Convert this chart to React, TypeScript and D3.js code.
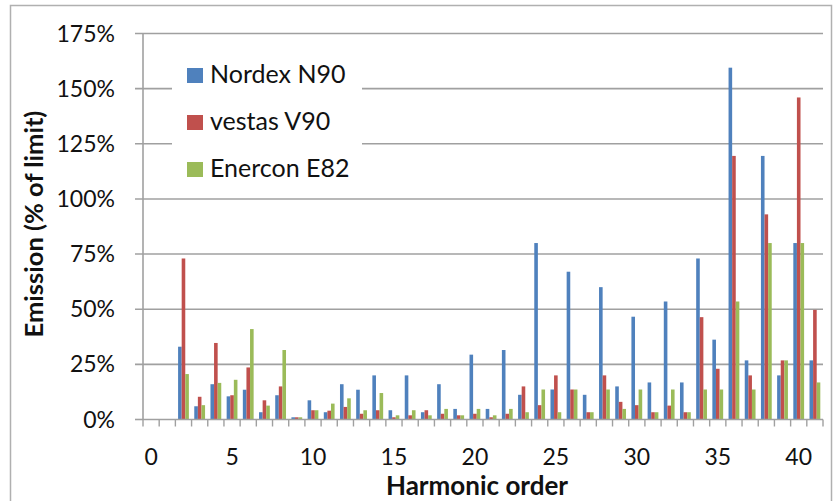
import React from "react";
import * as d3 from "d3";

const harmonics: number[] = Array.from({ length: 42 }, (_, i) => i);
const seriesNames = ["Nordex N90", "vestas V90", "Enercon E82"];
const seriesColors = ["#4F81BD", "#C0504D", "#9BBB59"];

const nordex = [0, 0, 33, 6, 16, 10.5, 13.5, 3.3, 11, 1, 8.7, 3.3, 16, 13.5, 20, 4.2, 20, 3.3, 16, 4.8, 29.4, 4.8, 31.5, 11.2, 80, 13.6, 67, 11.2, 60, 15, 46.6, 16.8, 53.5, 16.8, 73, 36.2, 159.5, 26.8, 119.5, 20, 80, 26.8];
const vestas = [0, 0, 73, 10.3, 34.7, 11, 23.6, 8.7, 15, 1, 4.2, 4, 5.7, 2.6, 4.2, 1, 1.9, 4.2, 2.6, 1.9, 2.6, 1, 2.6, 15, 6.5, 20, 13.6, 3.3, 20, 8, 6.5, 3.3, 6.3, 3.3, 46.4, 23, 119.5, 20, 93, 26.8, 146, 49.7];
const enercon = [0, 0, 20.6, 6.5, 16.6, 18, 41, 6.3, 31.5, 1, 4.2, 7.2, 9.6, 4.2, 12, 1.9, 4.2, 1.9, 4.8, 1.9, 4.8, 1.9, 4.8, 3.3, 13.6, 3.3, 13.6, 3.3, 13.6, 4.8, 13.6, 3.3, 13.6, 3.3, 13.6, 13.6, 53.5, 13.6, 80, 26.8, 80, 16.8];
const yTicks = [0, 25, 50, 75, 100, 125, 150, 175];
const xLabels = [0, 5, 10, 15, 20, 25, 30, 35, 40];

const seriesData = [nordex, vestas, enercon];

export default function App() {
  const W = 834, H = 501;
  const left = 143, right = 823, top = 33.5, bottom = 419.5;
  const font = "Lato, 'Open Sans', sans-serif";

  const x = d3.scaleBand<number>().domain(harmonics).range([left, right]).paddingInner(1 / 3).paddingOuter(1 / 6);
  const xs = d3.scaleBand<number>().domain([0, 1, 2]).range([0, x.bandwidth()]);
  const y = d3.scaleLinear().domain([0, 175]).range([bottom, top]);
  const step = x.step();
  const grid = "#a0a0a0";

  return (
    <svg width={W} height={H} style={{ position: "absolute", left: 0, top: 0, background: "#fff" }}>
      <rect x={10.5} y={5.5} width={821} height={510} fill="#fff" stroke="#b0b0b0" strokeWidth={1.5} />
      {yTicks.map((t) => (
        <g key={t}>
          <line x1={left - 8} x2={t === 0 ? left : right} y1={y(t)} y2={y(t)} stroke={grid} strokeWidth={1.6} />
          <text x={115} y={y(t)} dy="0.35em" textAnchor="end" fontFamily={font} fontSize={23} fill="#111">{t}%</text>
        </g>
      ))}
      <rect x={172} y={50} width={190} height={140} fill="#fff" />
      {seriesData.map((s, si) =>
        s.map((v, i) =>
          v > 0 ? (
            <rect key={`${si}-${i}`} x={(x(harmonics[i]) as number) + (xs(si) as number)} y={y(v)} width={xs.bandwidth()} height={bottom - y(v)} fill={seriesColors[si]} />
          ) : null
        )
      )}
      <line x1={left} x2={left} y1={top} y2={bottom} stroke={grid} strokeWidth={1.6} />
      <line x1={left} x2={right} y1={bottom} y2={bottom} stroke={grid} strokeWidth={1.6} />
      {d3.range(harmonics.length + 1).map((i) => (
        <line key={i} x1={left + i * step} x2={left + i * step} y1={bottom} y2={bottom + 7} stroke={grid} strokeWidth={1.4} />
      ))}
      {xLabels.map((l) => (
        <text key={l} x={(x(l) as number) + x.bandwidth() / 2} y={465} textAnchor="middle" fontFamily={font} fontSize={23} fill="#111">{l}</text>
      ))}
      <text x={477} y={495} textAnchor="middle" fontFamily={font} fontSize={26} fontWeight="bold" fill="#111">Harmonic order</text>
      <text transform="translate(43,224) rotate(-90)" textAnchor="middle" fontFamily={font} fontSize={25.5} fontWeight="bold" fill="#111">Emission (% of limit)</text>
      {seriesNames.map((n, i) => (
        <g key={n} transform={`translate(187,${68 + i * 47})`}>
          <rect x={0} y={0} width={16} height={15} fill={seriesColors[i]} />
          <text x={23} y={15} fontFamily={font} fontSize={25} fill="#111">{n}</text>
        </g>
      ))}
    </svg>
  );
}
